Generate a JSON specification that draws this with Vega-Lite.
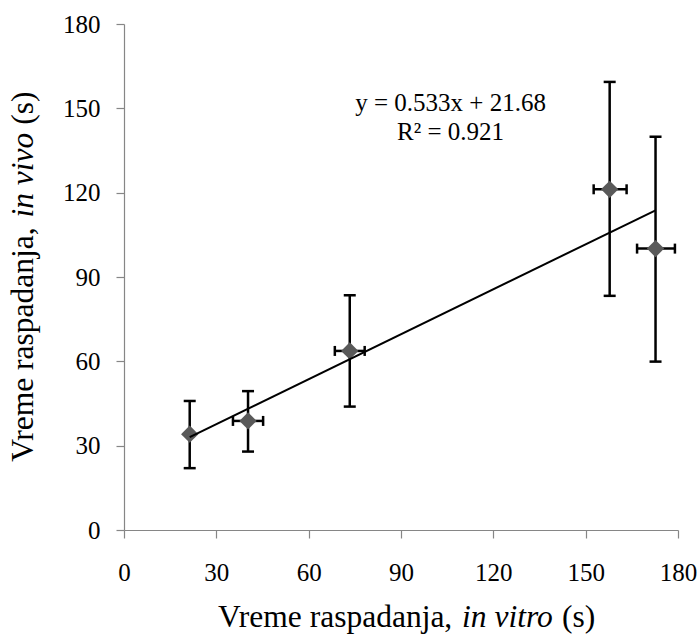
{
  "$schema": "https://vega.github.io/schema/vega-lite/v6.json",
  "width": 554,
  "height": 506,
  "autosize": {"type": "none"},
  "padding": {"left": 124, "top": 24, "right": 19, "bottom": 111},
  "background": "white",
  "config": {
    "font": "Liberation Serif",
    "view": {"stroke": null},
    "axis": {
      "labelFont": "Liberation Serif",
      "labelFontSize": 25,
      "labelColor": "#000000",
      "domainColor": "#868686",
      "domainWidth": 1.2,
      "tickColor": "#868686",
      "tickWidth": 1.2,
      "tickSize": 8,
      "grid": false,
      "labelFlush": false,
      "labelOverlap": false,
      "labelBound": false
    },
    "axisX": {"labelPadding": 22},
    "axisY": {"labelPadding": 16}
  },
  "data": {
    "values": [
      {"x": 21.35, "y": 34.1, "ylo": 22.0, "yhi": 45.9, "xlo": null, "xhi": null},
      {"x": 40.3, "y": 38.8, "ylo": 27.9, "yhi": 49.4, "xlo": 35.4, "xhi": 45.2},
      {"x": 73.35, "y": 63.7, "ylo": 43.9, "yhi": 83.5, "xlo": 68.5, "xhi": 78.2},
      {"x": 157.8, "y": 121.2, "ylo": 83.3, "yhi": 159.4, "xlo": 152.6, "xhi": 163.3},
      {"x": 172.7, "y": 100.1, "ylo": 59.9, "yhi": 139.9, "xlo": 166.7, "xhi": 179.0}
    ]
  },
  "layer": [
    {
      "mark": {"type": "rule", "color": "#000000", "strokeWidth": 2.5},
      "encoding": {
        "x": {"field": "x", "type": "quantitative", "title": null,
              "scale": {"domain": [0, 180], "nice": false, "zero": false},
              "axis": {"values": [0, 30, 60, 90, 120, 150, 180], "labelFont": "Liberation Serif", "labelFontSize": 25}},
        "y": {"field": "ylo", "type": "quantitative", "title": null,
              "scale": {"domain": [0, 180], "nice": false, "zero": false},
              "axis": {"values": [0, 30, 60, 90, 120, 150, 180], "labelFont": "Liberation Serif", "labelFontSize": 25}},
        "y2": {"field": "yhi"}
      }
    },
    {
      "mark": {"type": "tick", "orient": "horizontal", "size": 12, "thickness": 2.5, "color": "#000000", "opacity": 1},
      "encoding": {
        "x": {"field": "x", "type": "quantitative", "title": null},
        "y": {"field": "ylo", "type": "quantitative", "title": null}
      }
    },
    {
      "mark": {"type": "tick", "orient": "horizontal", "size": 12, "thickness": 2.5, "color": "#000000", "opacity": 1},
      "encoding": {
        "x": {"field": "x", "type": "quantitative", "title": null},
        "y": {"field": "yhi", "type": "quantitative", "title": null}
      }
    },
    {
      "transform": [{"filter": "datum.xlo != null"}],
      "mark": {"type": "rule", "color": "#000000", "strokeWidth": 2.5},
      "encoding": {
        "x": {"field": "xlo", "type": "quantitative", "title": null},
        "x2": {"field": "xhi"},
        "y": {"field": "y", "type": "quantitative", "title": null}
      }
    },
    {
      "transform": [{"filter": "datum.xlo != null"}],
      "mark": {"type": "tick", "orient": "vertical", "size": 10, "thickness": 2.5, "color": "#000000", "opacity": 1},
      "encoding": {
        "x": {"field": "xlo", "type": "quantitative", "title": null},
        "y": {"field": "y", "type": "quantitative", "title": null}
      }
    },
    {
      "transform": [{"filter": "datum.xlo != null"}],
      "mark": {"type": "tick", "orient": "vertical", "size": 10, "thickness": 2.5, "color": "#000000", "opacity": 1},
      "encoding": {
        "x": {"field": "xhi", "type": "quantitative", "title": null},
        "y": {"field": "y", "type": "quantitative", "title": null}
      }
    },
    {
      "mark": {"type": "point", "shape": "diamond", "filled": true, "size": 300, "color": "#595959", "opacity": 1},
      "encoding": {
        "x": {"field": "x", "type": "quantitative", "title": null},
        "y": {"field": "y", "type": "quantitative", "title": null}
      }
    },
    {
      "data": {"values": [{"tx": 21.35, "ty": 33.06}, {"tx": 172.7, "ty": 113.73}]},
      "mark": {"type": "line", "color": "#000000", "strokeWidth": 2},
      "encoding": {
        "x": {"field": "tx", "type": "quantitative", "title": null},
        "y": {"field": "ty", "type": "quantitative", "title": null}
      }
    },
    {
      "data": {"values": [{}]},
      "mark": {"type": "text", "font": "Liberation Serif", "fontSize": 25, "color": "#000000", "align": "center", "baseline": "alphabetic", "lineHeight": 29},
      "encoding": {
        "x": {"datum": 106.1, "type": "quantitative"},
        "y": {"datum": 149.05, "type": "quantitative"},
        "text": {"value": ["y = 0.533x + 21.68", "R² = 0.921"]}
      }
    },
    {
      "data": {"values": [{}]},
      "mark": {"type": "text", "font": "Liberation Serif", "fontSize": 31.5, "color": "#000000", "align": "left", "baseline": "alphabetic", "dx": -183},
      "encoding": {
        "x": {"datum": 90, "type": "quantitative"},
        "y": {"datum": -34.5, "type": "quantitative"},
        "text": {"value": "Vreme raspadanja,"}
      }
    },
    {
      "data": {"values": [{}]},
      "mark": {"type": "text", "font": "Liberation Serif", "fontSize": 31.5, "fontStyle": "italic", "color": "#000000", "align": "left", "baseline": "alphabetic", "dx": 61.1},
      "encoding": {
        "x": {"datum": 90, "type": "quantitative"},
        "y": {"datum": -34.5, "type": "quantitative"},
        "text": {"value": "in vitro"}
      }
    },
    {
      "data": {"values": [{}]},
      "mark": {"type": "text", "font": "Liberation Serif", "fontSize": 31.5, "color": "#000000", "align": "left", "baseline": "alphabetic", "dx": 160.9},
      "encoding": {
        "x": {"datum": 90, "type": "quantitative"},
        "y": {"datum": -34.5, "type": "quantitative"},
        "text": {"value": "(s)"}
      }
    },
    {
      "data": {"values": [{}]},
      "mark": {"type": "text", "font": "Liberation Serif", "fontSize": 31.5, "color": "#000000", "align": "left", "baseline": "alphabetic", "angle": 270, "dx": -185.5},
      "encoding": {
        "x": {"datum": -29.5, "type": "quantitative"},
        "y": {"datum": 90.3, "type": "quantitative"},
        "text": {"value": "Vreme raspadanja,"}
      }
    },
    {
      "data": {"values": [{}]},
      "mark": {"type": "text", "font": "Liberation Serif", "fontSize": 31.5, "fontStyle": "italic", "color": "#000000", "align": "left", "baseline": "alphabetic", "angle": 270, "dx": 58.6},
      "encoding": {
        "x": {"datum": -29.5, "type": "quantitative"},
        "y": {"datum": 90.3, "type": "quantitative"},
        "text": {"value": "in vivo"}
      }
    },
    {
      "data": {"values": [{}]},
      "mark": {"type": "text", "font": "Liberation Serif", "fontSize": 31.5, "color": "#000000", "align": "left", "baseline": "alphabetic", "angle": 270, "dx": 151.4},
      "encoding": {
        "x": {"datum": -29.5, "type": "quantitative"},
        "y": {"datum": 90.3, "type": "quantitative"},
        "text": {"value": "(s)"}
      }
    }
  ]
}
